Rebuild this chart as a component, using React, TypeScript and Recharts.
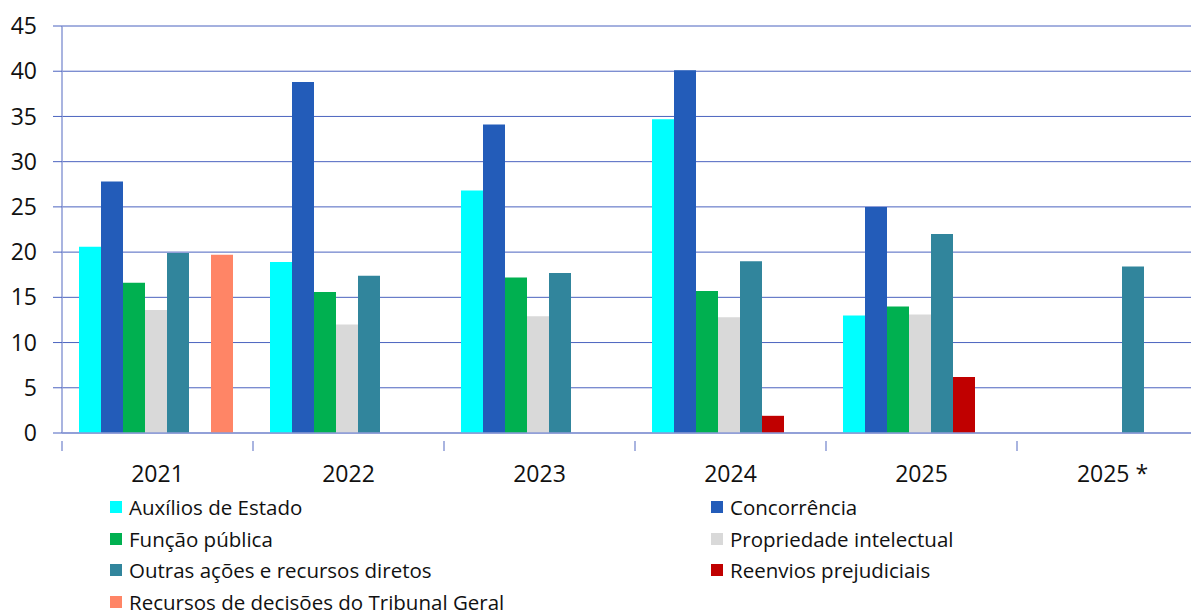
import React from 'react';
import { BarChart, Bar, XAxis, YAxis, CartesianGrid } from 'recharts';

const years = ['2021', '2022', '2023', '2024', '2025', '2025 *'];

const auxilios = [20.6, 18.9, 26.8, 34.7, 13.0, null];
const concorrencia = [27.8, 38.8, 34.1, 40.1, 25.0, null];
const funcaoPublica = [16.6, 15.6, 17.2, 15.7, 14.0, null];
const propriedade = [13.6, 12.0, 12.9, 12.8, 13.1, null];
const outras = [19.9, 17.4, 17.7, 19.0, 22.0, 18.4];
const reenvios = [null, null, null, 1.9, 6.2, null];
const recursosTG = [19.7, null, null, null, null, null];

const yTicks = [0, 5, 10, 15, 20, 25, 30, 35, 40, 45];

const SERIES = [
  { key: 'aux', name: 'Auxílios de Estado', color: '#00FFFF', values: auxilios },
  { key: 'conc', name: 'Concorrência', color: '#235CB9', values: concorrencia },
  { key: 'fp', name: 'Função pública', color: '#00B050', values: funcaoPublica },
  { key: 'pi', name: 'Propriedade intelectual', color: '#D9D9D9', values: propriedade },
  { key: 'outras', name: 'Outras ações e recursos diretos', color: '#31859C', values: outras },
  { key: 'reenv', name: 'Reenvios prejudiciais', color: '#C00000', values: reenvios },
  { key: 'rtg', name: 'Recursos de decisões do Tribunal Geral', color: '#FF8566', values: recursosTG },
];

const data = years.map((year, i) => {
  const row: Record<string, string | number | null> = { year };
  SERIES.forEach((s) => {
    row[s.key] = s.values[i];
  });
  return row;
});

const FONT = '"Open Sans", "Noto Sans", sans-serif';
const TEXT = '#111111';
const GRID = '#4B63BF';
const AXIS = '#8C9BD6';

// the plot runs a little past the right edge of the page, as in the original
const CHART_W = 1201;
const CHART_H = 480;
const MARGIN = { top: 18, right: 1, left: 0, bottom: 0 };
const Y_W = 54;
const BAND = (CHART_W - MARGIN.left - MARGIN.right - Y_W) / years.length;

const XTick = (props: any) => {
  const { x, y, payload, index } = props;
  const left = x - BAND / 2;
  return (
    <g>
      <line x1={left} x2={left} y1={y} y2={y + 10} stroke={AXIS} strokeWidth={1.5} />
      {index === years.length - 1 && (
        <line x1={x + BAND / 2} x2={x + BAND / 2} y1={y} y2={y + 10} stroke={AXIS} strokeWidth={1.5} />
      )}
      <text x={x} y={y + 41} textAnchor="middle" fill={TEXT} fontSize={23} fontFamily={FONT}>
        {payload.value}
      </text>
    </g>
  );
};

const ChartLegend = () => (
  <div style={{ position: 'absolute', left: 0, top: 488, width: 1191, fontFamily: FONT }}>
    {SERIES.map((s, i) => {
      const col = i % 2;
      const row = Math.floor(i / 2);
      return (
        <div
          key={s.key}
          style={{
            position: 'absolute',
            left: col === 0 ? 102 : 703,
            top: Math.round(row * 31.7),
            display: 'flex',
            alignItems: 'center',
            height: 22,
            lineHeight: '22px',
            whiteSpace: 'nowrap',
          }}
        >
          <span style={{ display: 'inline-block', width: 12, height: 12, background: s.color, marginRight: 7 }} />
          <span style={{ fontSize: 20.5, color: TEXT }}>{s.name}</span>
        </div>
      );
    })}
  </div>
);

const App: React.FC = () => {
  return (
    <div style={{ position: 'relative', width: 1191, height: 605, overflow: 'hidden' }}>
      <BarChart
        width={CHART_W}
        height={CHART_H}
        data={data}
        margin={MARGIN}
        barCategoryGap={17}
        barGap={0}
      >
        <CartesianGrid vertical={false} stroke={GRID} strokeWidth={1} />
        <XAxis
          dataKey="year"
          height={CHART_H - MARGIN.top - 407}
          axisLine={{ stroke: AXIS, strokeWidth: 1.5 }}
          tickLine={false}
          tick={<XTick />}
          interval={0}
        />
        <YAxis
          width={Y_W}
          domain={[0, 45]}
          ticks={yTicks}
          interval={0}
          axisLine={{ stroke: AXIS, strokeWidth: 1.5 }}
          tickLine={{ stroke: GRID }}
          tickSize={9}
          tickMargin={16}
          tick={{ fill: TEXT, fontSize: 23, fontFamily: FONT }}
        />
        {SERIES.map((s) => (
          <Bar key={s.key} dataKey={s.key} name={s.name} fill={s.color} isAnimationActive={false} />
        ))}
      </BarChart>
      <ChartLegend />
    </div>
  );
};

export default App;
